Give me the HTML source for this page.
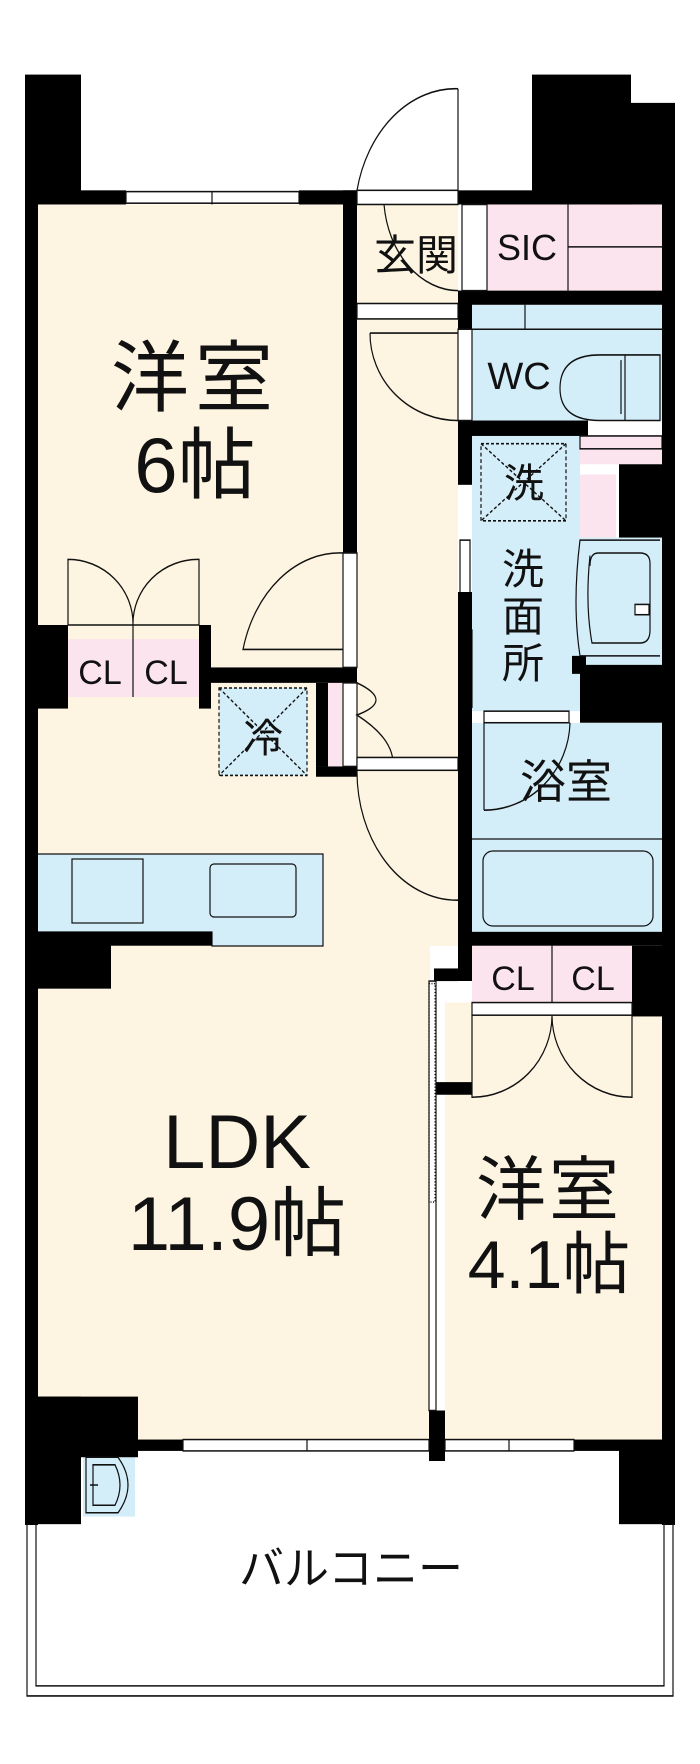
<!DOCTYPE html>
<html><head><meta charset="utf-8"><style>
html,body{margin:0;padding:0;background:#fff;width:700px;height:1764px;overflow:hidden}
svg{display:block}
text{font-family:"Liberation Sans","Noto Sans CJK JP",sans-serif;fill:#111}
</style></head><body>
<svg width="700" height="1764" viewBox="0 0 700 1764" xmlns="http://www.w3.org/2000/svg">
<!-- real-coordinate spanning fills -->
<rect x="38" y="683" width="392" height="757" fill="#fdf5e2"/>
<rect x="357" y="766" width="101" height="180" fill="#fdf5e2"/>
<rect x="472" y="723" width="190" height="209" fill="#d4eef9"/>
<rect x="38" y="854" width="285" height="78" fill="#d4eef9"/>
<rect x="212" y="932" width="111" height="14" fill="#d4eef9"/>

<!-- GROUP A : top section -->
<g transform="matrix(1,0,0,1.286,0,0)">
<g stroke="none">
<rect x="38" y="159" width="305" height="372" fill="#fdf5e2"/>
<rect x="357" y="159" width="101" height="440" fill="#fdf5e2"/>
<rect x="487" y="159" width="175" height="67" fill="#fbe4ee"/>
<rect x="472" y="237" width="190" height="90" fill="#d4eef9"/>
<rect x="472" y="339" width="108" height="214" fill="#d4eef9"/>
<rect x="580" y="339" width="82" height="22" fill="#fbe4ee"/>
<rect x="580" y="369" width="36" height="49" fill="#fbe4ee"/>
<rect x="578" y="418" width="84" height="99" fill="#d4eef9"/>
<rect x="68" y="497" width="131" height="45" fill="#fbe4ee"/>
<rect x="328" y="531" width="14" height="65" fill="#fbe4ee"/>
<rect x="219" y="535" width="88" height="68" fill="#d4eef9"/>
</g>
<g fill="#000">
<rect x="25" y="58" width="56" height="100"/>
<rect x="25" y="148" width="101" height="11"/>
<rect x="299" y="148" width="58" height="11"/>
<rect x="343" y="148" width="14" height="282"/>
<rect x="343" y="519" width="14" height="12"/>
<rect x="458" y="148" width="74" height="11"/>
<rect x="532" y="58" width="99" height="101"/>
<rect x="600" y="80" width="75" height="79"/>
<rect x="458" y="226" width="217" height="11"/>
<rect x="458" y="226" width="14" height="30"/>
<rect x="458" y="327" width="14" height="50"/>
<rect x="458" y="327" width="130" height="12"/>
<rect x="619" y="361" width="56" height="57"/>
<rect x="580" y="517" width="95" height="45"/>
<rect x="572" y="510" width="14" height="14"/>
<rect x="38" y="486" width="30" height="65"/>
<rect x="199" y="486" width="12" height="65"/>
<rect x="199" y="519" width="144" height="12"/>
<rect x="316" y="531" width="12" height="65"/>
<rect x="316" y="596" width="41" height="8"/>
</g>
<g fill="none" stroke="#111" stroke-width="1.2">
<rect x="126" y="149" width="173" height="9" fill="#fff"/>
<line x1="212" y1="149" x2="212" y2="159"/>
<path d="M458,69 V148 M458,69 A101,101 0 0 0 357,148"/>
<rect x="357" y="148" width="101" height="11" fill="#fff"/>
<path d="M384,159 A75,75 0 0 0 458,226"/>
<rect x="462" y="159" width="25" height="67" fill="#fff"/>
<line x1="568" y1="159" x2="568" y2="226"/><line x1="568" y1="192" x2="662" y2="192"/>
<rect x="357" y="236" width="101" height="12" fill="#fff"/>
<line x1="472" y1="256" x2="662" y2="256"/><line x1="525" y1="237" x2="525" y2="256"/>
<rect x="458" y="256" width="14" height="71" fill="#fff"/>
<path d="M370,259 H458 M370,259 A88,68 0 0 0 458,327"/>
<path d="M660,276 H600 Q560,276 560,302 Q560,327 600,327 H660 Z"/>
<line x1="625" y1="276" x2="625" y2="327"/><line x1="621" y1="280" x2="621" y2="322"/>
<rect x="580" y="339" width="82" height="10" fill="#fbe4ee"/>
<g stroke-dasharray="3,2"><rect x="481" y="345" width="85" height="60"/><line x1="481" y1="345" x2="566" y2="405"/><line x1="566" y1="345" x2="481" y2="405"/></g>
<rect x="460" y="420" width="10" height="60" fill="#fff"/>
<rect x="460" y="490" width="12" height="60" fill="#fff"/>
<path d="M660,420 H580 Q572,470 580,510 H660 M590,432 Q585,470 592,500 H640 Q650,500 650,490 V438 Q650,430 640,430 H598 Q590,430 590,440"/>
<rect x="635" y="470" width="14" height="8" fill="#fff"/>
<rect x="484" y="553" width="85" height="9" fill="#fff"/>
<path d="M484,562 V630 M484,630 A86,70 0 0 0 570,562"/>
<line x1="68" y1="486" x2="199" y2="486"/><line x1="133" y1="486" x2="133" y2="542"/>
<path d="M68,486 V435 A65,50 0 0 1 133,486 M199,486 V435 A65,50 0 0 0 133,486"/>
<rect x="343" y="430" width="14" height="89" fill="#fff"/>
<path d="M343,430 A100,100 0 0 0 243,505 H343"/>
<g stroke-dasharray="3,2"><rect x="219" y="535" width="88" height="68"/><line x1="219" y1="535" x2="307" y2="603"/><line x1="307" y1="535" x2="219" y2="603"/></g>
<rect x="343" y="531" width="14" height="65" fill="#fff"/>
<path d="M357,531 Q395,545 357,556 Q395,575 393,596"/>
<rect x="357" y="589" width="101" height="10" fill="#fff"/>
<path d="M357,599 A100,100 0 0 0 458,700"/>
</g>
</g>

<!-- real-coordinate spanning walls & details -->
<g fill="#000">
<rect x="25" y="75" width="13" height="1450"/>
<rect x="662" y="103" width="13" height="1422"/>
<rect x="458" y="592" width="14" height="389"/>
</g>
<g fill="none" stroke="#111" stroke-width="1.2">
<line x1="472" y1="839" x2="662" y2="839"/>
<rect x="483" y="851" width="170" height="75" rx="10"/>
<rect x="72" y="859" width="71" height="64"/>
<rect x="210" y="864" width="86" height="53" rx="4"/>
<path d="M38,854 H323 V946 H212 V932 H38"/>
</g>

<!-- GROUP B : bottom section -->
<g transform="matrix(1,0,0,1.263,0,-231.4)">
<g stroke="none">
<rect x="445" y="977" width="217" height="346" fill="#fdf5e2"/>
<rect x="472" y="932" width="160" height="45" fill="#fbe4ee"/>
<rect x="83" y="1334" width="52" height="50" fill="#d4eef9"/>
</g>
<g fill="#000">
<rect x="25" y="921" width="86" height="45"/>
<rect x="25" y="921" width="187" height="11"/>
<rect x="458" y="921" width="217" height="11"/>
<rect x="434" y="950" width="24" height="10"/>
<rect x="434" y="1040" width="38" height="10"/>
<rect x="632" y="932" width="43" height="56"/>
<rect x="429" y="1300" width="16" height="40"/>
<rect x="25" y="1289" width="113" height="48"/>
<rect x="25" y="1289" width="56" height="101"/>
<rect x="138" y="1323" width="45" height="9"/>
<rect x="574" y="1323" width="45" height="9"/>
<rect x="619" y="1323" width="56" height="67"/>
</g>
<g fill="none" stroke="#111" stroke-width="1.2">
<rect x="183" y="1323" width="246" height="9" fill="#fff"/>
<rect x="445" y="1323" width="129" height="9" fill="#fff"/>
<line x1="307" y1="1323" x2="307" y2="1332"/><line x1="509" y1="1323" x2="509" y2="1332"/>
<path d="M27,1390 V1526 H673 V1390"/>
<path d="M36,1390 V1518 H664 V1390"/>
<rect x="472" y="977" width="160" height="10" fill="#fff"/>
<line x1="552" y1="932" x2="552" y2="977"/>
<path d="M472,987 V1052 A80,65 0 0 0 552,987 M632,987 V1052 A80,65 0 0 1 552,987"/>
<rect x="429" y="960" width="7" height="340" fill="#fff"/>
<rect x="429" y="962" width="6" height="173" stroke-dasharray="1,1.5"/>
<path d="M86,1337 H118 Q138,1359 118,1381 H86 Z"/>
<path d="M93,1343 H115 Q125,1359 115,1375 H93 Z"/>
<line x1="90" y1="1359" x2="98" y2="1359"/>
</g>
</g>

<!-- labels (real coords) -->
<text x="195" y="405" font-size="78" text-anchor="middle" letter-spacing="6">洋室</text>
<text x="195" y="492" font-size="78" text-anchor="middle">6帖</text>
<text x="416" y="270" font-size="42" text-anchor="middle">玄関</text>
<text x="527" y="260" font-size="36" text-anchor="middle">SIC</text>
<text x="519" y="389" font-size="38" text-anchor="middle">WC</text>
<text x="524" y="497" font-size="40" text-anchor="middle">洗</text>
<text x="523" y="584" font-size="42" text-anchor="middle">洗</text>
<text x="523" y="631" font-size="42" text-anchor="middle">面</text>
<text x="523" y="678" font-size="42" text-anchor="middle">所</text>
<text x="566" y="798" font-size="46" text-anchor="middle">浴室</text>
<text x="263" y="752" font-size="40" text-anchor="middle">冷</text>
<text x="100" y="684" font-size="34" text-anchor="middle">CL</text>
<text x="166" y="684" font-size="34" text-anchor="middle">CL</text>
<text x="513" y="990" font-size="34" text-anchor="middle">CL</text>
<text x="593" y="990" font-size="34" text-anchor="middle">CL</text>
<text x="237" y="1168" font-size="76" text-anchor="middle">LDK</text>
<text x="237" y="1250" font-size="76" text-anchor="middle">11.9帖</text>
<text x="549" y="1214" font-size="70" text-anchor="middle" letter-spacing="3">洋室</text>
<text x="549" y="1288" font-size="68" text-anchor="middle">4.1帖</text>
<text x="351" y="1584" font-size="45" text-anchor="middle">バルコニー</text>
</svg>
</body></html>
